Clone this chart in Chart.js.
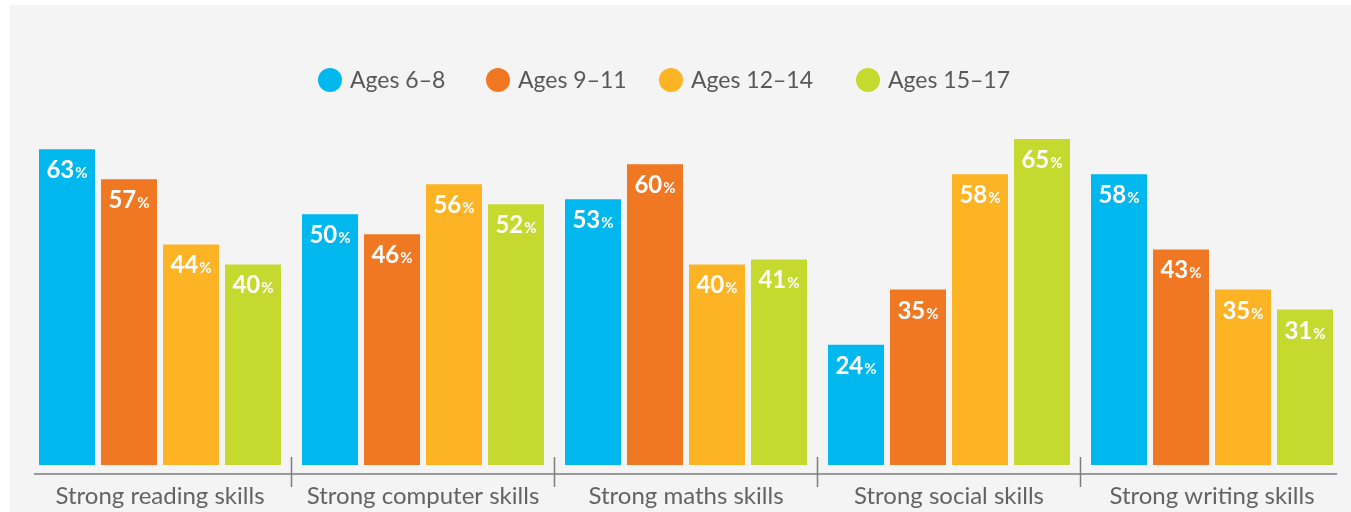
<!DOCTYPE html>
<html><head><meta charset="utf-8">
<script src="https://cdn.jsdelivr.net/npm/chart.js@4/dist/chart.umd.min.js"></script>
<style>html,body{margin:0;padding:0;background:#fff;overflow:hidden;} #wrap{position:absolute;left:0;top:0;width:1351px;height:512px;}</style>
</head><body><div id="wrap"><canvas id="c" width="1351" height="512"></canvas></div>
<script>
const categories = ["Strong reading skills","Strong computer skills","Strong maths skills","Strong social skills","Strong writing skills"];
const seriesLabels = ["Ages 6–8","Ages 9–11","Ages 12–14","Ages 15–17"];
const ages6to8 = [63,50,53,24,58];
const ages9to11 = [57,46,60,35,43];
const ages12to14 = [44,56,40,58,35];
const ages15to17 = [40,52,41,65,31];
const seriesColors = ["#00b7ee","#f07822","#fcb424","#c6d92f"];

const FONT = "Lato, 'Open Sans', sans-serif";

const panelPlugin = {
  id: 'panel',
  beforeDraw(chart) {
    const ctx = chart.ctx;
    ctx.save();
    ctx.fillStyle = '#f4f4f4';
    ctx.fillRect(10, 5, chart.width - 10, chart.height - 5);
    ctx.restore();
  }
};

const legendXs = [330, 498, 671, 868];
const legendPlugin = {
  id: 'customLegend',
  afterDraw(chart) {
    const ctx = chart.ctx;
    ctx.save();
    chart.data.datasets.forEach((ds, i) => {
      const cx = legendXs[i], cy = 80;
      ctx.beginPath();
      ctx.fillStyle = ds.backgroundColor;
      ctx.arc(cx, cy, 12, 0, Math.PI * 2);
      ctx.fill();
      ctx.fillStyle = '#585858';
      ctx.font = "23px " + FONT;
      ctx.textBaseline = 'middle';
      ctx.textAlign = 'left';
      ctx.fillText(ds.label, cx + 20, cy + 1);
    });
    ctx.restore();
  }
};

const axisPlugin = {
  id: 'axisLine',
  afterDraw(chart) {
    const ctx = chart.ctx, area = chart.chartArea, xs = chart.scales.x;
    const y = area.bottom + 9;
    ctx.save();
    ctx.strokeStyle = '#7d7d7d';
    ctx.lineWidth = 1.5;
    ctx.beginPath();
    ctx.moveTo(area.left + 5.5, y);
    ctx.lineTo(area.right - 6.5, y);
    ctx.stroke();
    for (let i = 0; i < categories.length - 1; i++) {
      const bx = (xs.getPixelForValue(i) + xs.getPixelForValue(i + 1)) / 2;
      ctx.beginPath();
      ctx.moveTo(bx, y - 17);
      ctx.lineTo(bx, y + 13);
      ctx.stroke();
    }
    ctx.restore();
  }
};

const labelPlugin = {
  id: 'valueLabels',
  afterDatasetsDraw(chart) {
    const ctx = chart.ctx;
    ctx.save();
    ctx.fillStyle = '#ffffff';
    ctx.textBaseline = 'alphabetic';
    ctx.textAlign = 'left';
    chart.data.datasets.forEach((ds, di) => {
      const meta = chart.getDatasetMeta(di);
      meta.data.forEach((el, i) => {
        const num = String(ds.data[i]);
        ctx.font = "bold 24px " + FONT;
        const w1 = ctx.measureText(num).width;
        ctx.font = "bold 15px " + FONT;
        const w2 = ctx.measureText('%').width;
        const total = w1 + 1 + w2;
        const sx = el.x - total / 2;
        const by = el.y + 29;
        ctx.font = "bold 24px " + FONT;
        ctx.fillText(num, sx, by);
        ctx.font = "bold 15px " + FONT;
        ctx.fillText('%', sx + w1 + 1, by);
      });
    });
    ctx.restore();
  }
};

const seriesData = [ages6to8, ages9to11, ages12to14, ages15to17];
new Chart(document.getElementById('c'), {
  type: 'bar',
  data: {
    labels: categories,
    datasets: seriesLabels.map((lab, i) => ({
      label: lab,
      data: seriesData[i],
      backgroundColor: seriesColors[i],
      borderWidth: 0,
      categoryPercentage: 0.943,
      barPercentage: 0.9032
    }))
  },
  options: {
    responsive: false,
    animation: false,
    devicePixelRatio: 1,
    layout: { padding: { left: 28.5, right: 7.5, top: 100, bottom: 0 } },
    plugins: { legend: { display: false }, tooltip: { enabled: false } },
    scales: {
      x: {
        grid: { display: false, drawTicks: false },
        border: { display: false },
        ticks: { color: '#636363', font: { family: FONT, size: 24 }, padding: 17, maxRotation: 0 },
        afterFit(scale) { scale.height = 47; }
      },
      y: { display: false, min: 0, max: 72.8 }
    }
  },
  plugins: [panelPlugin, axisPlugin, labelPlugin, legendPlugin]
});
</script>
</body></html>
